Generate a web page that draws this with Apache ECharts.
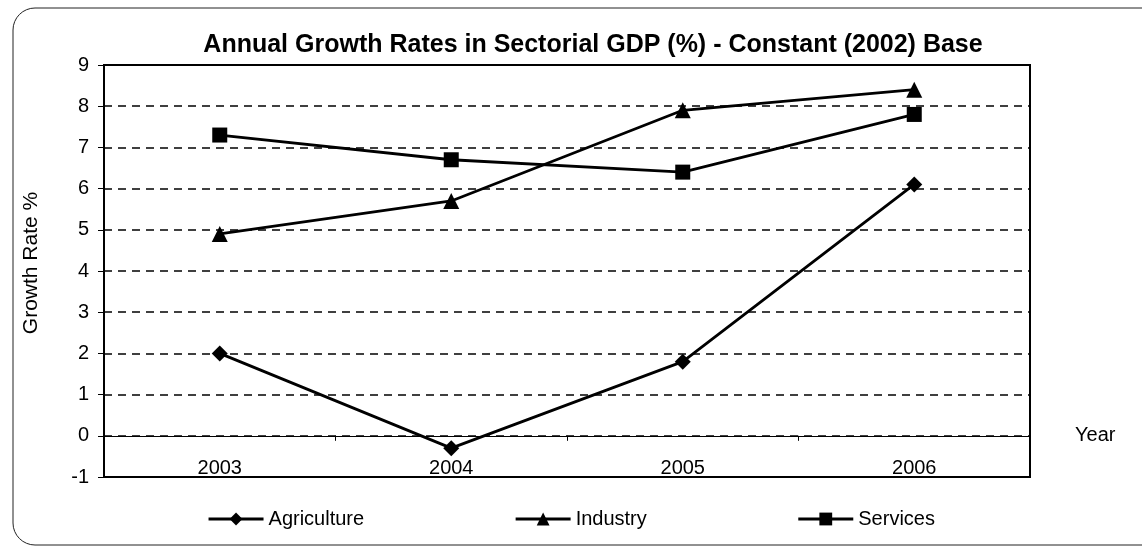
<!DOCTYPE html>
<html>
<head>
<meta charset="utf-8">
<script src="https://cdn.jsdelivr.net/npm/echarts@6/dist/echarts.min.js"></script>
<style>
  html, body { margin: 0; padding: 0; background: #fff; }
  #chart { width: 1142px; height: 547px; }
</style>
</head>
<body>
<div id="chart"></div>
<script>
// data
var years = ['2003', '2004', '2005', '2006'];
var agriculture = [2.0, -0.3, 1.8, 6.1];
var industry = [4.9, 5.7, 7.9, 8.4];
var services = [7.3, 6.7, 6.4, 7.8];

var chart = echarts.init(document.getElementById('chart'));
var font = 'Arial, "Liberation Sans", sans-serif';

function line(name, data, symbol, size) {
  return {
    name: name,
    type: 'line',
    data: data,
    symbol: symbol,
    symbolSize: size,
    itemStyle: { color: '#000' },
    lineStyle: { color: '#000', width: 2.8 },
    z: 5
  };
}

var option = {
  animation: false,
  backgroundColor: '#fff',
  textStyle: { fontFamily: font, color: '#000' },
  graphic: [{
    type: 'rect',
    shape: { x: 13, y: 8, width: 1250, height: 537, r: 22 },
    style: { fill: 'none', stroke: '#222', lineWidth: 1 },
    silent: true
  }],
  title: {
    text: 'Annual Growth Rates in Sectorial GDP (%) - Constant (2002) Base',
    left: 588,
    textAlign: 'center',
    top: 28,
    textStyle: { fontFamily: font, fontWeight: 'bold', fontSize: 25, color: '#000' }
  },
  legend: {
    bottom: 13,
    left: 'center',
    itemGap: 150,
    itemWidth: 55,
    itemHeight: 16,
    lineStyle: { width: 3 },
    textStyle: { fontFamily: font, fontSize: 20, color: '#000' },
    data: ['Agriculture', 'Industry', 'Services']
  },
  grid: {
    left: 104, right: 112, top: 65, bottom: 70,
    show: true,
    borderColor: '#000',
    borderWidth: 2,
    containLabel: false
  },
  xAxis: [{
    // year labels, sitting just above the bottom edge
    type: 'category',
    data: years,
    boundaryGap: true,
    position: 'bottom',
    axisLine: { show: false, onZero: false },
    axisTick: { show: false },
    axisLabel: { inside: true, margin: -1, fontSize: 20, color: '#000', fontFamily: font },
    splitLine: { show: false }
  }, {
    // zero line with its ticks and the axis name
    type: 'category',
    data: years,
    boundaryGap: true,
    position: 'bottom',
    name: 'Year',
    nameLocation: 'end',
    nameGap: 45,
    nameTextStyle: { fontFamily: font, fontSize: 20, color: '#000', padding: [0, 0, 18, 0] },
    axisLine: { show: true, onZero: true, lineStyle: { color: '#000', width: 1.2 } },
    axisTick: { show: true, length: 5, lineStyle: { color: '#000' } },
    axisLabel: { show: false },
    splitLine: { show: false }
  }],
  yAxis: {
    type: 'value',
    min: -1,
    max: 9,
    interval: 1,
    name: 'Growth Rate %',
    nameLocation: 'middle',
    nameGap: 62,
    nameTextStyle: { fontFamily: font, fontSize: 21, color: '#000', padding: [0, 0, 0, 16] },
    axisLine: { show: true, lineStyle: { color: '#000', width: 2 } },
    axisTick: { show: true, length: 6, lineStyle: { color: '#000' } },
    axisLabel: { margin: 15, fontSize: 20, color: '#000', fontFamily: font },
    splitLine: { show: true, lineStyle: { color: '#000', width: 1.5, type: [8, 6] } }
  },
  series: [
    line('Agriculture', agriculture, 'diamond', 16),
    line('Industry', industry, 'triangle', 16),
    line('Services', services, 'rect', 15)
  ]
};

chart.setOption(option);
</script>
</body>
</html>
